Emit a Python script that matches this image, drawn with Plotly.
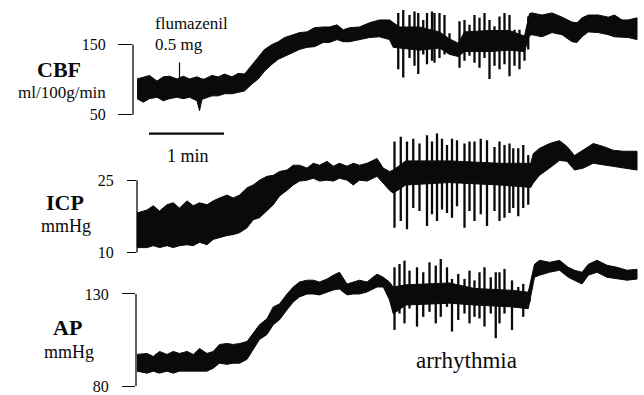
import plotly.graph_objects as go

W, H = 644, 395

# ------------------------------------------------------------------ data
# time in seconds (1 min scale bar = 60 s)
cbf_t = [0, 5, 10, 16, 21, 26, 32, 37, 42, 48, 50, 52, 54, 60, 65, 70, 76, 81, 86, 92,
         97, 102, 108, 113, 118, 125, 130, 136, 142, 149, 154, 160, 165, 170, 178, 186, 194, 202, 205, 210,
         226, 242, 250, 257, 262, 282, 298, 310, 314, 316, 324, 332, 340, 348, 352, 356, 361, 369, 377, 382,
         388, 393, 400]
cbf_upper = [101, 104, 106, 98, 104, 105, 101, 105, 101, 104, 102, 101, 101, 106, 104, 108, 104, 109, 108, 122,
             132, 143, 150, 154, 160, 164, 167, 168, 174, 175, 175, 178, 171, 174, 175, 181, 185, 185, 181, 175,
             175, 168, 158, 152, 168, 170, 170, 162, 194, 195, 192, 195, 189, 182, 181, 188, 192, 192, 189, 192,
             185, 185, 188]
cbf_lower = [73, 68, 73, 75, 70, 73, 75, 73, 75, 70, 56, 72, 73, 77, 77, 80, 80, 82, 84, 94,
             101, 112, 122, 129, 133, 139, 143, 146, 147, 153, 153, 157, 154, 154, 157, 160, 161, 157, 146, 145,
             142, 145, 136, 133, 140, 140, 142, 140, 163, 164, 161, 167, 164, 154, 153, 161, 168, 167, 164, 161,
             160, 160, 157]
cbf_spike_t = [209, 213, 218, 222, 225, 229, 232, 236, 238, 242, 246, 250, 258, 262, 266, 270, 274, 278,
               282, 286, 290, 294, 298, 302, 306, 310, 313]
cbf_spike_hi = [195, 199, 192, 197, 195, 185, 195, 197, 195, 195, 192, 166, 183, 185, 178, 192, 188, 195,
                185, 176, 190, 195, 192, 171, 171, 162, 190]
cbf_spike_lo = [115, 103, 131, 120, 108, 136, 122, 127, 124, 131, 136, 143, 117, 127, 134, 124, 117, 131,
                101, 120, 115, 122, 105, 120, 115, 127, 143]

icp_t = [0, 8, 13, 18, 24, 29, 34, 40, 45, 50, 56, 61, 66, 72, 77, 82, 88, 93, 98, 104,
         109, 114, 120, 125, 130, 136, 141, 146, 152, 157, 162, 168, 173, 178, 184, 192, 197, 202, 205, 215,
         250, 290, 315, 317, 322, 330, 338, 344, 350, 357, 365, 373, 381, 389, 400]
icp_upper = [18.2, 18.8, 19.7, 18.6, 19.9, 20.3, 19.2, 20.7, 19.7, 20.3, 19.9, 20.7, 21.3, 21.9, 21.3, 21.9,
             23.4, 24.0, 25.0, 25.8, 26.0, 26.8, 27.1, 28.1, 28.1, 27.5, 28.5, 28.1, 28.9, 27.9, 28.5, 27.9,
             28.5, 28.1, 28.5, 29.5, 27.5, 26.8, 27.1, 29.0, 29.0, 28.5, 28.5, 30.5, 31.6, 32.6, 33.2, 32.0,
             30.1, 31.2, 32.6, 32.0, 31.2, 31.0, 31.0]
icp_lower = [11.0, 11.0, 11.4, 11.0, 11.4, 11.0, 11.4, 11.6, 11.4, 12.1, 11.6, 12.7, 13.1, 13.5, 13.7, 14.1,
             15.1, 16.8, 17.2, 18.6, 19.9, 21.7, 22.9, 24.0, 24.8, 25.0, 25.4, 24.8, 25.0, 24.8, 25.4, 25.0,
             24.0, 25.0, 24.8, 25.8, 24.4, 22.9, 22.3, 24.0, 24.5, 24.0, 23.5, 24.4, 26.0, 27.5, 29.1, 28.9,
             27.1, 27.5, 28.5, 28.1, 27.9, 27.5, 27.1]
icp_spike_t = [206, 211, 216, 221, 226, 232, 236, 240, 244, 248, 252, 256, 262, 266, 270, 275, 280, 286,
               290, 294, 298, 301, 305, 309, 313]
icp_spike_hi = [33.0, 34.0, 33.0, 33.6, 32.6, 34.3, 33.0, 34.7, 33.6, 32.3, 33.6, 33.3, 32.6, 33.0, 33.0,
                33.6, 33.3, 31.9, 33.0, 32.3, 32.6, 31.6, 31.6, 32.3, 30.2]
icp_spike_lo = [15.1, 16.5, 14.8, 19.2, 18.6, 15.5, 17.9, 16.5, 18.9, 18.2, 17.2, 19.6, 15.1, 18.6, 16.5,
                17.9, 15.5, 18.6, 16.5, 17.2, 18.2, 19.2, 17.5, 19.2, 19.9]

ap_t = [0, 8, 13, 18, 24, 29, 34, 40, 45, 50, 56, 61, 66, 72, 77, 82, 88, 93, 98, 104,
        109, 114, 120, 125, 130, 136, 141, 146, 152, 157, 162, 168, 173, 178, 184, 192, 197, 202, 205, 215,
        250, 270, 300, 313, 318, 322, 330, 338, 345, 350, 356, 361, 368, 376, 384, 392, 400]
ap_upper = [97.2, 97.7, 96.1, 98.8, 97.2, 98.8, 97.7, 98.8, 97.2, 100.4, 97.7, 98.8, 102.6, 103.1, 102.6,
            103.1, 104.2, 108.5, 113.3, 116.6, 123.0, 124.6, 130.0, 133.8, 136.5, 137.5, 137.5, 136.5, 138.1,
            140.2, 141.8, 135.4, 136.5, 137.5, 136.5, 140.8, 139.1, 136.5, 133.8, 135, 136, 133, 132, 131,
            146.1, 148.3, 147.2, 148.3, 144.5, 142.9, 141.8, 146.1, 148.3, 145.6, 144.5, 142.9, 143.4]
ap_lower = [88.1, 87.0, 88.1, 87.0, 88.1, 87.0, 88.1, 88.1, 88.1, 88.1, 88.1, 89.7, 92.4, 91.8, 92.4,
            92.4, 94.5, 99.9, 105.3, 108.0, 113.3, 116.0, 121.4, 125.7, 128.4, 130.0, 130.0, 129.5, 131.1,
            132.2, 132.7, 129.5, 130.0, 130.0, 131.1, 133.8, 133.8, 126.8, 119.2, 124, 125, 124, 123, 122,
            139.1, 140.2, 141.8, 142.9, 139.1, 137.5, 135.4, 140.2, 141.8, 139.1, 138.1, 137.5, 138.1]
ap_spike_t = [206, 210, 214, 218, 224, 229, 234, 239, 243, 248, 252, 257, 262, 266, 270, 274, 278, 283,
              287, 290, 294, 300, 305, 309, 314]
ap_spike_hi = [144.5, 146.3, 148.1, 142.7, 144.5, 141.8, 147.2, 145.4, 149.0, 144.5, 138.2, 140.9, 138.2,
               142.7, 137.4, 141.8, 144.5, 139.1, 141.8, 141.8, 143.6, 137.4, 133.8, 135.5, 132.0]
ap_spike_lo = [110.5, 119.4, 114.0, 122.1, 112.3, 117.6, 120.3, 114.0, 117.6, 123.0, 109.6, 115.9, 119.4,
               114.0, 117.6, 116.7, 112.3, 119.4, 106.0, 114.0, 119.4, 110.5, 123.0, 117.6, 125.7]

cbf_ticks = [50, 150]
icp_ticks = [10, 25]
ap_ticks = [80, 130]
flumazenil_t = 34
scalebar_len = 60

# ------------------------------------------------------------------ layout helpers
INK = "#0a0a0a"
SERIF = "Liberation Serif, Times New Roman, serif"
T0_PX = 137          # pixel where t = 0
PX_PER_S = 1.25      # 75 px per minute
RIGHT_PX = 641


def xspec(left_px):
    dom = [left_px / W, RIGHT_PX / W]
    rng = [(left_px - T0_PX) / PX_PER_S, (RIGHT_PX - T0_PX) / PX_PER_S]
    return dom, rng


def yspec(top_px, bot_px, p_hi, v_hi, p_lo, v_lo):
    k = (v_hi - v_lo) / (p_lo - p_hi)
    r_top = v_hi + (p_hi - top_px) * k
    r_bot = v_lo - (bot_px - p_lo) * k
    return [1 - bot_px / H, 1 - top_px / H], [r_bot, r_top]


def px(x):
    return x / W


def py(y):
    return 1 - y / H


panels = [
    dict(t=cbf_t, up=cbf_upper, lo=cbf_lower, st=cbf_spike_t, sh=cbf_spike_hi, sl=cbf_spike_lo,
         ticks=cbf_ticks, left=133, ticklen=14, dom=(0, 135), anchors=(45, 116), standoff=9),
    dict(t=icp_t, up=icp_upper, lo=icp_lower, st=icp_spike_t, sh=icp_spike_hi, sl=icp_spike_lo,
         ticks=icp_ticks, left=137, ticklen=9, dom=(130, 262), anchors=(182, 255), standoff=10),
    dict(t=ap_t, up=ap_upper, lo=ap_lower, st=ap_spike_t, sh=ap_spike_hi, sl=ap_spike_lo,
         ticks=ap_ticks, left=136, ticklen=13, dom=(256, 395), anchors=(297, 390), standoff=10),
]

fig = go.Figure()
layout = dict(width=W, height=H, autosize=False, margin=dict(l=0, r=0, t=0, b=0),
              paper_bgcolor="white", plot_bgcolor="rgba(0,0,0,0)", showlegend=False)
shapes = []

for i, p in enumerate(panels, start=1):
    sx = "" if i == 1 else str(i)
    xa, ya = "x" + sx, "y" + sx
    # band polygon
    fig.add_trace(go.Scatter(
        x=p["t"] + p["t"][::-1], y=p["up"] + p["lo"][::-1], mode="lines",
        fill="toself", fillcolor=INK, line=dict(color=INK, width=1),
        xaxis=xa, yaxis=ya, hoverinfo="skip"))
    # arrhythmia spikes
    xs, ys = [], []
    for t, hi, lo in zip(p["st"], p["sh"], p["sl"]):
        xs += [t, t, None]
        ys += [lo, hi, None]
    fig.add_trace(go.Scatter(x=xs, y=ys, mode="lines", line=dict(color=INK, width=2.3),
                             xaxis=xa, yaxis=ya, hoverinfo="skip"))
    dom_x, rng_x = xspec(p["left"])
    lo_v, hi_v = p["ticks"]
    dom_y, rng_y = yspec(p["dom"][0], p["dom"][1], p["anchors"][0], hi_v, p["anchors"][1], lo_v)
    layout["xaxis" + sx] = dict(domain=dom_x, range=rng_x, visible=False, anchor=ya)
    layout["yaxis" + sx] = dict(domain=dom_y, range=rng_y, anchor=xa, tickvals=p["ticks"],
                                ticktext=[str(v) for v in p["ticks"]], ticks="outside",
                                ticklen=p["ticklen"], tickwidth=1.2, tickcolor=INK,
                                showgrid=False, zeroline=False, showline=False,
                                ticklabelstandoff=p["standoff"], ticklabeloverflow="allow",
                                tickfont=dict(family=SERIF, size=16, color=INK))
    shapes.append(dict(type="line", xref=xa + " domain", yref=ya, x0=0, x1=0, y0=lo_v, y1=hi_v,
                       line=dict(color=INK, width=1.3)))

# scale bar 1 min
sb_t0 = (149 - T0_PX) / PX_PER_S
shapes.append(dict(type="line", xref="x", yref="paper", x0=sb_t0, x1=sb_t0 + scalebar_len,
                   y0=py(135), y1=py(135), line=dict(color=INK, width=2.2)))
# flumazenil marker
shapes.append(dict(type="line", xref="x", yref="paper", x0=flumazenil_t, x1=flumazenil_t,
                   y0=py(80), y1=py(63), line=dict(color=INK, width=1.2)))
layout["shapes"] = shapes

ann = []


def text(s, x, y, size, bold=False, xanchor="center"):
    ann.append(dict(text=f"<b>{s}</b>" if bold else s, x=px(x), y=py(y), xref="paper", yref="paper",
                    xanchor=xanchor, yanchor="middle", showarrow=False, borderpad=0,
                    font=dict(family=SERIF, size=size, color=INK)))


text("CBF", 59, 70, 22, bold=True)
text("ml/100g/min", 61.5, 93, 17)
text("ICP", 64.5, 205, 22, bold=True)
text("mmHg", 66, 228, 18)
text("AP", 67.5, 331, 22, bold=True)
text("mmHg", 68.5, 356, 18)
text("flumazenil", 154, 23.5, 17, xanchor="left")
text("0.5 mg", 154, 44.5, 17, xanchor="left")
text("1 min", 188, 158, 18)
text("arrhythmia", 466, 364, 23)
layout["annotations"] = ann

fig.update_layout(**layout)
fig.write_html("out.html", config={"displayModeBar": False},
               post_script="document.body.style.margin='0';document.body.style.overflow='hidden';")
